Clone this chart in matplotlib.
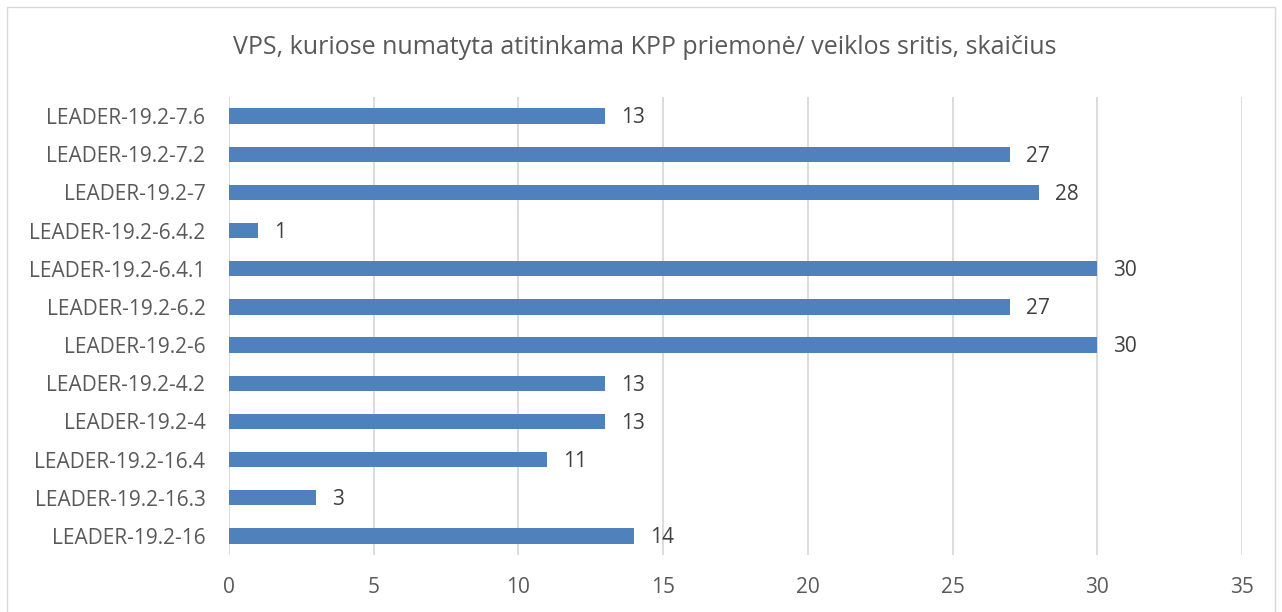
import matplotlib
matplotlib.use("Agg")
import matplotlib.pyplot as plt
from matplotlib.patches import Rectangle

plt.rcParams['font.family'] = ['Open Sans', 'DejaVu Sans']

categories = ["LEADER-19.2-7.6", "LEADER-19.2-7.2", "LEADER-19.2-7",
              "LEADER-19.2-6.4.2", "LEADER-19.2-6.4.1", "LEADER-19.2-6.2",
              "LEADER-19.2-6", "LEADER-19.2-4.2", "LEADER-19.2-4",
              "LEADER-19.2-16.4", "LEADER-19.2-16.3", "LEADER-19.2-16"]
values = [13, 27, 28, 1, 30, 27, 30, 13, 13, 11, 3, 14]
x_ticks = [0, 5, 10, 15, 20, 25, 30, 35]
title = "VPS, kuriose numatyta atitinkama KPP priemonė/ veiklos sritis, skaičius"

text_col = "#595959"
bar_col = "#4f81bd"

fig = plt.figure(figsize=(12.82, 6.12), dpi=100)
ax = fig.add_axes([229/1282, 1-555/612, (1242-229)/1282, (555-97)/612])

pos = list(range(len(categories)))[::-1]
bars = ax.barh(pos, values, height=0.4, color=bar_col, zorder=3)
for b, v in zip(bars, values):
    ax.text(b.get_width() + 0.55, b.get_y() + b.get_height()/2 - 0.05, str(v),
            va='center', ha='left', fontsize=15, color="#404040")

ax.set_xlim(0, 35)
ax.set_ylim(-0.5, len(categories) - 0.5)
ax.set_yticks(pos)
ax.set_yticklabels(categories, fontsize=15, color=text_col)
ax.set_xticks(x_ticks)
ax.set_xticklabels([str(t) for t in x_ticks], fontsize=15, color=text_col)
ax.tick_params(length=0, pad=16, axis='x')
ax.tick_params(length=0, pad=17, axis='y')
ax.grid(axis='x', color='#d9d9d9', linewidth=1.3, zorder=0)
for s in ax.spines.values():
    s.set_visible(False)

fig.text(645/1282, 1-47/612, title, ha='center', va='center',
         fontsize=18, color=text_col)

fig.patches.append(Rectangle((7/1282, -0.02), (1275-7)/1282, 1.02 - 7/612,
                             transform=fig.transFigure, fill=False,
                             edgecolor='#d9d9d9', linewidth=1))

fig.savefig("out.png", dpi=100)
